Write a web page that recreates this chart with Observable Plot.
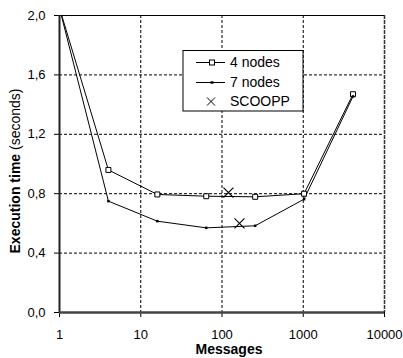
<!DOCTYPE html>
<html><head><meta charset="utf-8">
<script src="https://cdn.jsdelivr.net/npm/d3@7"></script>
<script src="https://cdn.jsdelivr.net/npm/@observablehq/plot@0.6"></script>
<style>
body{margin:0;background:#fff}
svg{font-family:"Liberation Sans",Arial,sans-serif}
</style>
</head><body><div id="chart"></div>
<script>
const messages = [1, 4, 16, 64, 256, 1024, 4096];
const nodes4 = [2.05, 0.96, 0.795, 0.783, 0.779, 0.80, 1.47];
const nodes7 = [2.05, 0.75, 0.615, 0.57, 0.584, 0.763, 1.455];
const scooppX = [120, 164];
const scooppY = [0.808, 0.60];
const xTicks = [1, 10, 100, 1000, 10000];
const yTicks = [0, 0.4, 0.8, 1.2, 1.6, 2.0];
const seriesNames = ["4 nodes", "7 nodes", "SCOOPP"];
const xTitle = "Messages";
const yTitleBold = "Execution time";
const yTitleRest = " (seconds)";

const d4 = messages.map((m, i) => ({x: m, y: nodes4[i]}));
const d7 = messages.map((m, i) => ({x: m, y: nodes7[i]}));
const sc = scooppX.map((m, i) => ({x: m, y: scooppY[i]}));
const fmtY = d => d3.format(".1f")(d).replace(".", ",");

const chart = Plot.plot({
  width: 403, height: 358,
  marginLeft: 59, marginRight: 19, marginTop: 15, marginBottom: 46,
  style: {fontFamily: "Liberation Sans, Arial, sans-serif", fontSize: "13px", color: "#000", background: "#fff", overflow: "visible"},
  x: {type: "log", domain: [1, 10000]},
  y: {domain: [0, 2]},
  marks: [
    Plot.ruleY(yTicks.filter(d => d > 0 && d < 2), {stroke: "#000", strokeWidth: 1, strokeDasharray: "3,2"}),
    Plot.ruleX(xTicks.filter(d => d > 1 && d < 10000), {stroke: "#000", strokeWidth: 1, strokeDasharray: "3,2"}),
    Plot.ruleX([10000], {stroke: "#333", strokeWidth: 1.5, strokeDasharray: "4,1"}),
    Plot.ruleY([2], {stroke: "#000", strokeWidth: 1}),
    Plot.axisY({ticks: yTicks, tickFormat: fmtY, tickSize: 5, tickPadding: 9, label: null, stroke: "#000"}),
    Plot.axisX({ticks: xTicks, tickFormat: d => String(d), tickSize: 5, tickPadding: 12, label: null, stroke: "#000"}),
    Plot.line(d4, {x: "x", y: "y", stroke: "#000", strokeWidth: 1, clip: true}),
    Plot.line(d7, {x: "x", y: "y", stroke: "#000", strokeWidth: 1, clip: true}),
    Plot.ruleX([1], {stroke: "#222", strokeWidth: 2}),
    Plot.ruleY([0], {stroke: "#444", strokeWidth: 2.5}),
    Plot.dot(d4, {x: "x", y: "y", symbol: "square", r: 2.8, stroke: "#000", fill: "#fff", strokeWidth: 1, clip: true}),
    Plot.dot(d7, {x: "x", y: "y", symbol: "square", r: 1.4, fill: "#000", stroke: "none", clip: true}),
    Plot.dot(sc, {x: "x", y: "y", symbol: "times", r: 4.6, stroke: "#000", strokeWidth: 1.1})
  ]
});

const svg = d3.select(chart);
// axis titles
svg.append("text").attr("x", 229).attr("y", 353.5).attr("text-anchor", "middle")
  .attr("font-size", 14).attr("font-weight", "bold").attr("fill", "#000").text(xTitle);
const yt = svg.append("text").attr("transform", "translate(20,171) rotate(-90)")
  .attr("text-anchor", "middle").attr("font-size", 14).attr("fill", "#000");
yt.append("tspan").attr("font-weight", "bold").text(yTitleBold);
yt.append("tspan").text(yTitleRest);

// legend
const lg = svg.append("g").attr("font-size", 14).attr("text-anchor", "start");
lg.append("rect").attr("x", 183).attr("y", 50.5).attr("width", 120).attr("height", 60.5)
  .attr("fill", "#fff").attr("stroke", "#000").attr("stroke-width", 1);
const rows = [62.5, 82.5, 101.5];
seriesNames.forEach((name, i) => {
  const y = rows[i];
  if (i < 2) {
    lg.append("line").attr("x1", 196).attr("x2", 225).attr("y1", y).attr("y2", y).attr("stroke", "#000");
    if (i === 0) lg.append("rect").attr("x", 209.5).attr("y", y - 2.5).attr("width", 5).attr("height", 5).attr("fill", "#fff").attr("stroke", "#000");
    else lg.append("rect").attr("x", 210.5).attr("y", y - 1.2).attr("width", 3).attr("height", 2.4).attr("fill", "#000");
  } else {
    lg.append("path").attr("d", `M${207},${y-4}L${215},${y+4}M${207},${y+4}L${215},${y-4}`).attr("stroke", "#000").attr("fill", "none");
  }
  lg.append("text").attr("x", 230).attr("y", y).attr("dy", "0.35em").attr("text-anchor", "start").attr("fill", "#000").text(name);
});

document.getElementById("chart").appendChild(chart);
</script>
</body></html>
